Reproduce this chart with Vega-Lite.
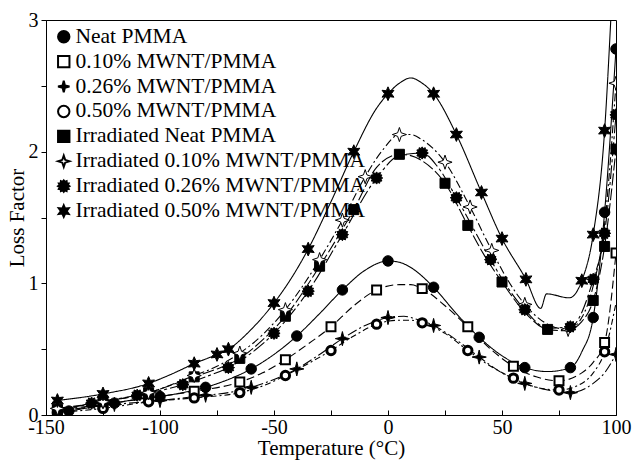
{
  "$schema": "https://vega.github.io/schema/vega-lite/v6.json",
  "width": 570,
  "height": 395,
  "autosize": "none",
  "padding": {"left": 46, "top": 20, "right": 17, "bottom": 48},
  "background": "white",
  "datasets": {
    "curves": [
      {"s":"Neat PMMA","t":-145,"v":0.02},{"s":"Neat PMMA","t":-140,"v":0.03},{"s":"Neat PMMA","t":-130,"v":0.06},{"s":"Neat PMMA","t":-120,"v":0.09},{"s":"Neat PMMA","t":-110,"v":0.12},{"s":"Neat PMMA","t":-100,"v":0.14},{"s":"Neat PMMA","t":-90,"v":0.17},{"s":"Neat PMMA","t":-80,"v":0.21},{"s":"Neat PMMA","t":-70,"v":0.27},{"s":"Neat PMMA","t":-60,"v":0.35},{"s":"Neat PMMA","t":-50,"v":0.46},{"s":"Neat PMMA","t":-40,"v":0.60},{"s":"Neat PMMA","t":-30,"v":0.77},{"s":"Neat PMMA","t":-20,"v":0.95},{"s":"Neat PMMA","t":-10,"v":1.10},{"s":"Neat PMMA","t":0,"v":1.17},{"s":"Neat PMMA","t":5,"v":1.16},{"s":"Neat PMMA","t":10,"v":1.12},{"s":"Neat PMMA","t":20,"v":0.97},{"s":"Neat PMMA","t":30,"v":0.77},{"s":"Neat PMMA","t":40,"v":0.59},{"s":"Neat PMMA","t":50,"v":0.45},{"s":"Neat PMMA","t":60,"v":0.36},{"s":"Neat PMMA","t":70,"v":0.33},{"s":"Neat PMMA","t":80,"v":0.36},{"s":"Neat PMMA","t":85,"v":0.48},{"s":"Neat PMMA","t":90,"v":0.74},{"s":"Neat PMMA","t":95,"v":1.54},{"s":"Neat PMMA","t":100,"v":2.78},

      {"s":"0.10% MWNT/PMMA","t":-145,"v":0.04},{"s":"0.10% MWNT/PMMA","t":-125,"v":0.08},{"s":"0.10% MWNT/PMMA","t":-105,"v":0.13},{"s":"0.10% MWNT/PMMA","t":-85,"v":0.18},{"s":"0.10% MWNT/PMMA","t":-65,"v":0.25},{"s":"0.10% MWNT/PMMA","t":-55,"v":0.32},{"s":"0.10% MWNT/PMMA","t":-45,"v":0.42},{"s":"0.10% MWNT/PMMA","t":-35,"v":0.54},{"s":"0.10% MWNT/PMMA","t":-25,"v":0.67},{"s":"0.10% MWNT/PMMA","t":-15,"v":0.83},{"s":"0.10% MWNT/PMMA","t":-5,"v":0.95},{"s":"0.10% MWNT/PMMA","t":5,"v":0.99},{"s":"0.10% MWNT/PMMA","t":10,"v":0.99},{"s":"0.10% MWNT/PMMA","t":15,"v":0.96},{"s":"0.10% MWNT/PMMA","t":25,"v":0.83},{"s":"0.10% MWNT/PMMA","t":35,"v":0.67},{"s":"0.10% MWNT/PMMA","t":45,"v":0.50},{"s":"0.10% MWNT/PMMA","t":55,"v":0.37},{"s":"0.10% MWNT/PMMA","t":65,"v":0.29},{"s":"0.10% MWNT/PMMA","t":75,"v":0.26},{"s":"0.10% MWNT/PMMA","t":85,"v":0.32},{"s":"0.10% MWNT/PMMA","t":90,"v":0.40},{"s":"0.10% MWNT/PMMA","t":95,"v":0.55},{"s":"0.10% MWNT/PMMA","t":100,"v":1.23},

      {"s":"0.26% MWNT/PMMA","t":-145,"v":0.03},{"s":"0.26% MWNT/PMMA","t":-120,"v":0.08},{"s":"0.26% MWNT/PMMA","t":-100,"v":0.11},{"s":"0.26% MWNT/PMMA","t":-80,"v":0.15},{"s":"0.26% MWNT/PMMA","t":-70,"v":0.17},{"s":"0.26% MWNT/PMMA","t":-60,"v":0.21},{"s":"0.26% MWNT/PMMA","t":-50,"v":0.27},{"s":"0.26% MWNT/PMMA","t":-40,"v":0.35},{"s":"0.26% MWNT/PMMA","t":-30,"v":0.46},{"s":"0.26% MWNT/PMMA","t":-20,"v":0.58},{"s":"0.26% MWNT/PMMA","t":-10,"v":0.68},{"s":"0.26% MWNT/PMMA","t":0,"v":0.74},{"s":"0.26% MWNT/PMMA","t":7,"v":0.75},{"s":"0.26% MWNT/PMMA","t":12,"v":0.73},{"s":"0.26% MWNT/PMMA","t":20,"v":0.68},{"s":"0.26% MWNT/PMMA","t":30,"v":0.57},{"s":"0.26% MWNT/PMMA","t":40,"v":0.44},{"s":"0.26% MWNT/PMMA","t":50,"v":0.32},{"s":"0.26% MWNT/PMMA","t":60,"v":0.24},{"s":"0.26% MWNT/PMMA","t":70,"v":0.19},{"s":"0.26% MWNT/PMMA","t":80,"v":0.17},{"s":"0.26% MWNT/PMMA","t":90,"v":0.24},{"s":"0.26% MWNT/PMMA","t":95,"v":0.32},{"s":"0.26% MWNT/PMMA","t":100,"v":0.46},

      {"s":"0.50% MWNT/PMMA","t":-145,"v":0.02},{"s":"0.50% MWNT/PMMA","t":-125,"v":0.05},{"s":"0.50% MWNT/PMMA","t":-105,"v":0.10},{"s":"0.50% MWNT/PMMA","t":-85,"v":0.13},{"s":"0.50% MWNT/PMMA","t":-65,"v":0.17},{"s":"0.50% MWNT/PMMA","t":-55,"v":0.22},{"s":"0.50% MWNT/PMMA","t":-45,"v":0.30},{"s":"0.50% MWNT/PMMA","t":-35,"v":0.39},{"s":"0.50% MWNT/PMMA","t":-25,"v":0.49},{"s":"0.50% MWNT/PMMA","t":-15,"v":0.60},{"s":"0.50% MWNT/PMMA","t":-5,"v":0.69},{"s":"0.50% MWNT/PMMA","t":5,"v":0.72},{"s":"0.50% MWNT/PMMA","t":10,"v":0.72},{"s":"0.50% MWNT/PMMA","t":15,"v":0.70},{"s":"0.50% MWNT/PMMA","t":25,"v":0.62},{"s":"0.50% MWNT/PMMA","t":35,"v":0.49},{"s":"0.50% MWNT/PMMA","t":45,"v":0.37},{"s":"0.50% MWNT/PMMA","t":55,"v":0.28},{"s":"0.50% MWNT/PMMA","t":65,"v":0.21},{"s":"0.50% MWNT/PMMA","t":75,"v":0.19},{"s":"0.50% MWNT/PMMA","t":85,"v":0.24},{"s":"0.50% MWNT/PMMA","t":90,"v":0.32},{"s":"0.50% MWNT/PMMA","t":95,"v":0.48},{"s":"0.50% MWNT/PMMA","t":100,"v":0.85},

      {"s":"Irradiated Neat PMMA","t":-145,"v":0.04},{"s":"Irradiated Neat PMMA","t":-125,"v":0.10},{"s":"Irradiated Neat PMMA","t":-105,"v":0.17},{"s":"Irradiated Neat PMMA","t":-85,"v":0.29},{"s":"Irradiated Neat PMMA","t":-75,"v":0.35},{"s":"Irradiated Neat PMMA","t":-65,"v":0.43},{"s":"Irradiated Neat PMMA","t":-55,"v":0.57},{"s":"Irradiated Neat PMMA","t":-45,"v":0.75},{"s":"Irradiated Neat PMMA","t":-30,"v":1.13},{"s":"Irradiated Neat PMMA","t":-15,"v":1.56},{"s":"Irradiated Neat PMMA","t":-5,"v":1.88},{"s":"Irradiated Neat PMMA","t":5,"v":1.98},{"s":"Irradiated Neat PMMA","t":10,"v":1.97},{"s":"Irradiated Neat PMMA","t":15,"v":1.93},{"s":"Irradiated Neat PMMA","t":25,"v":1.76},{"s":"Irradiated Neat PMMA","t":35,"v":1.44},{"s":"Irradiated Neat PMMA","t":42,"v":1.22},{"s":"Irradiated Neat PMMA","t":50,"v":1.01},{"s":"Irradiated Neat PMMA","t":60,"v":0.78},{"s":"Irradiated Neat PMMA","t":70,"v":0.65},{"s":"Irradiated Neat PMMA","t":78,"v":0.64},{"s":"Irradiated Neat PMMA","t":85,"v":0.71},{"s":"Irradiated Neat PMMA","t":90,"v":0.87},{"s":"Irradiated Neat PMMA","t":95,"v":1.28},{"s":"Irradiated Neat PMMA","t":100,"v":2.02},

      {"s":"Irradiated 0.10% MWNT/PMMA","t":-145,"v":0.05},{"s":"Irradiated 0.10% MWNT/PMMA","t":-125,"v":0.10},{"s":"Irradiated 0.10% MWNT/PMMA","t":-105,"v":0.17},{"s":"Irradiated 0.10% MWNT/PMMA","t":-85,"v":0.30},{"s":"Irradiated 0.10% MWNT/PMMA","t":-75,"v":0.37},{"s":"Irradiated 0.10% MWNT/PMMA","t":-65,"v":0.47},{"s":"Irradiated 0.10% MWNT/PMMA","t":-55,"v":0.61},{"s":"Irradiated 0.10% MWNT/PMMA","t":-45,"v":0.80},{"s":"Irradiated 0.10% MWNT/PMMA","t":-30,"v":1.18},{"s":"Irradiated 0.10% MWNT/PMMA","t":-20,"v":1.48},{"s":"Irradiated 0.10% MWNT/PMMA","t":-10,"v":1.81},{"s":"Irradiated 0.10% MWNT/PMMA","t":-2,"v":2.02},{"s":"Irradiated 0.10% MWNT/PMMA","t":5,"v":2.13},{"s":"Irradiated 0.10% MWNT/PMMA","t":10,"v":2.13},{"s":"Irradiated 0.10% MWNT/PMMA","t":15,"v":2.09},{"s":"Irradiated 0.10% MWNT/PMMA","t":25,"v":1.92},{"s":"Irradiated 0.10% MWNT/PMMA","t":36,"v":1.58},{"s":"Irradiated 0.10% MWNT/PMMA","t":45.5,"v":1.25},{"s":"Irradiated 0.10% MWNT/PMMA","t":52,"v":1.04},{"s":"Irradiated 0.10% MWNT/PMMA","t":60,"v":0.84},{"s":"Irradiated 0.10% MWNT/PMMA","t":70,"v":0.69},{"s":"Irradiated 0.10% MWNT/PMMA","t":79,"v":0.65},{"s":"Irradiated 0.10% MWNT/PMMA","t":85,"v":0.74},{"s":"Irradiated 0.10% MWNT/PMMA","t":90,"v":0.98},{"s":"Irradiated 0.10% MWNT/PMMA","t":95,"v":1.45},{"s":"Irradiated 0.10% MWNT/PMMA","t":100,"v":2.52},

      {"s":"Irradiated 0.26% MWNT/PMMA","t":-145,"v":0.03},{"s":"Irradiated 0.26% MWNT/PMMA","t":-130,"v":0.09},{"s":"Irradiated 0.26% MWNT/PMMA","t":-110,"v":0.15},{"s":"Irradiated 0.26% MWNT/PMMA","t":-90,"v":0.23},{"s":"Irradiated 0.26% MWNT/PMMA","t":-80,"v":0.29},{"s":"Irradiated 0.26% MWNT/PMMA","t":-70,"v":0.36},{"s":"Irradiated 0.26% MWNT/PMMA","t":-60,"v":0.47},{"s":"Irradiated 0.26% MWNT/PMMA","t":-50,"v":0.62},{"s":"Irradiated 0.26% MWNT/PMMA","t":-35,"v":0.94},{"s":"Irradiated 0.26% MWNT/PMMA","t":-20,"v":1.37},{"s":"Irradiated 0.26% MWNT/PMMA","t":-5,"v":1.80},{"s":"Irradiated 0.26% MWNT/PMMA","t":5,"v":1.97},{"s":"Irradiated 0.26% MWNT/PMMA","t":15,"v":1.99},{"s":"Irradiated 0.26% MWNT/PMMA","t":22,"v":1.88},{"s":"Irradiated 0.26% MWNT/PMMA","t":30,"v":1.65},{"s":"Irradiated 0.26% MWNT/PMMA","t":45,"v":1.18},{"s":"Irradiated 0.26% MWNT/PMMA","t":52,"v":0.98},{"s":"Irradiated 0.26% MWNT/PMMA","t":60,"v":0.80},{"s":"Irradiated 0.26% MWNT/PMMA","t":70,"v":0.66},{"s":"Irradiated 0.26% MWNT/PMMA","t":80,"v":0.67},{"s":"Irradiated 0.26% MWNT/PMMA","t":90,"v":1.03},{"s":"Irradiated 0.26% MWNT/PMMA","t":95,"v":1.38},{"s":"Irradiated 0.26% MWNT/PMMA","t":100,"v":2.28},

      {"s":"Irradiated 0.50% MWNT/PMMA","t":-145,"v":0.11},{"s":"Irradiated 0.50% MWNT/PMMA","t":-125,"v":0.16},{"s":"Irradiated 0.50% MWNT/PMMA","t":-105,"v":0.24},{"s":"Irradiated 0.50% MWNT/PMMA","t":-95,"v":0.31},{"s":"Irradiated 0.50% MWNT/PMMA","t":-85,"v":0.39},{"s":"Irradiated 0.50% MWNT/PMMA","t":-75,"v":0.46},{"s":"Irradiated 0.50% MWNT/PMMA","t":-70,"v":0.50},{"s":"Irradiated 0.50% MWNT/PMMA","t":-60,"v":0.65},{"s":"Irradiated 0.50% MWNT/PMMA","t":-50,"v":0.85},{"s":"Irradiated 0.50% MWNT/PMMA","t":-42,"v":1.05},{"s":"Irradiated 0.50% MWNT/PMMA","t":-35,"v":1.26},{"s":"Irradiated 0.50% MWNT/PMMA","t":-25,"v":1.62},{"s":"Irradiated 0.50% MWNT/PMMA","t":-15,"v":2.0},{"s":"Irradiated 0.50% MWNT/PMMA","t":-5,"v":2.33},{"s":"Irradiated 0.50% MWNT/PMMA","t":0,"v":2.44},{"s":"Irradiated 0.50% MWNT/PMMA","t":5,"v":2.52},{"s":"Irradiated 0.50% MWNT/PMMA","t":10,"v":2.56},{"s":"Irradiated 0.50% MWNT/PMMA","t":15,"v":2.52},{"s":"Irradiated 0.50% MWNT/PMMA","t":20,"v":2.44},{"s":"Irradiated 0.50% MWNT/PMMA","t":30,"v":2.13},{"s":"Irradiated 0.50% MWNT/PMMA","t":41,"v":1.69},{"s":"Irradiated 0.50% MWNT/PMMA","t":50,"v":1.34},{"s":"Irradiated 0.50% MWNT/PMMA","t":60.5,"v":1.03},{"s":"Irradiated 0.50% MWNT/PMMA","t":67,"v":0.81},{"s":"Irradiated 0.50% MWNT/PMMA","t":69.5,"v":0.92},{"s":"Irradiated 0.50% MWNT/PMMA","t":79.5,"v":0.89},{"s":"Irradiated 0.50% MWNT/PMMA","t":85,"v":1.02},{"s":"Irradiated 0.50% MWNT/PMMA","t":90,"v":1.37},{"s":"Irradiated 0.50% MWNT/PMMA","t":95,"v":2.16},{"s":"Irradiated 0.50% MWNT/PMMA","t":98,"v":3.1}
    ],
    "markers": [
      {"s":"Neat PMMA","t":-140,"v":0.03},{"s":"Neat PMMA","t":-120,"v":0.09},{"s":"Neat PMMA","t":-100,"v":0.14},{"s":"Neat PMMA","t":-80,"v":0.21},{"s":"Neat PMMA","t":-60,"v":0.35},{"s":"Neat PMMA","t":-40,"v":0.60},{"s":"Neat PMMA","t":-20,"v":0.95},{"s":"Neat PMMA","t":0,"v":1.17},{"s":"Neat PMMA","t":20,"v":0.97},{"s":"Neat PMMA","t":40,"v":0.59},{"s":"Neat PMMA","t":60,"v":0.36},{"s":"Neat PMMA","t":80,"v":0.36},{"s":"Neat PMMA","t":90,"v":0.74},{"s":"Neat PMMA","t":95,"v":1.54},{"s":"Neat PMMA","t":100,"v":2.78},

      {"s":"0.10% MWNT/PMMA","t":-145,"v":0.04},{"s":"0.10% MWNT/PMMA","t":-125,"v":0.08},{"s":"0.10% MWNT/PMMA","t":-105,"v":0.13},{"s":"0.10% MWNT/PMMA","t":-85,"v":0.18},{"s":"0.10% MWNT/PMMA","t":-65,"v":0.25},{"s":"0.10% MWNT/PMMA","t":-45,"v":0.42},{"s":"0.10% MWNT/PMMA","t":-25,"v":0.67},{"s":"0.10% MWNT/PMMA","t":-5,"v":0.95},{"s":"0.10% MWNT/PMMA","t":15,"v":0.96},{"s":"0.10% MWNT/PMMA","t":35,"v":0.67},{"s":"0.10% MWNT/PMMA","t":55,"v":0.37},{"s":"0.10% MWNT/PMMA","t":75,"v":0.26},{"s":"0.10% MWNT/PMMA","t":95,"v":0.55},{"s":"0.10% MWNT/PMMA","t":100,"v":1.23},

      {"s":"0.26% MWNT/PMMA","t":-120,"v":0.08},{"s":"0.26% MWNT/PMMA","t":-100,"v":0.11},{"s":"0.26% MWNT/PMMA","t":-80,"v":0.15},{"s":"0.26% MWNT/PMMA","t":-60,"v":0.21},{"s":"0.26% MWNT/PMMA","t":-40,"v":0.35},{"s":"0.26% MWNT/PMMA","t":-20,"v":0.58},{"s":"0.26% MWNT/PMMA","t":0,"v":0.74},{"s":"0.26% MWNT/PMMA","t":20,"v":0.68},{"s":"0.26% MWNT/PMMA","t":40,"v":0.44},{"s":"0.26% MWNT/PMMA","t":60,"v":0.24},{"s":"0.26% MWNT/PMMA","t":80,"v":0.17},{"s":"0.26% MWNT/PMMA","t":100,"v":0.46},

      {"s":"0.50% MWNT/PMMA","t":-145,"v":0.02},{"s":"0.50% MWNT/PMMA","t":-125,"v":0.05},{"s":"0.50% MWNT/PMMA","t":-105,"v":0.10},{"s":"0.50% MWNT/PMMA","t":-85,"v":0.13},{"s":"0.50% MWNT/PMMA","t":-65,"v":0.17},{"s":"0.50% MWNT/PMMA","t":-45,"v":0.30},{"s":"0.50% MWNT/PMMA","t":-25,"v":0.49},{"s":"0.50% MWNT/PMMA","t":-5,"v":0.69},{"s":"0.50% MWNT/PMMA","t":15,"v":0.70},{"s":"0.50% MWNT/PMMA","t":35,"v":0.49},{"s":"0.50% MWNT/PMMA","t":55,"v":0.28},{"s":"0.50% MWNT/PMMA","t":75,"v":0.19},{"s":"0.50% MWNT/PMMA","t":95,"v":0.48},

      {"s":"Irradiated Neat PMMA","t":-145,"v":0.04},{"s":"Irradiated Neat PMMA","t":-125,"v":0.10},{"s":"Irradiated Neat PMMA","t":-105,"v":0.17},{"s":"Irradiated Neat PMMA","t":-85,"v":0.29},{"s":"Irradiated Neat PMMA","t":-65,"v":0.43},{"s":"Irradiated Neat PMMA","t":-45,"v":0.75},{"s":"Irradiated Neat PMMA","t":-30,"v":1.13},{"s":"Irradiated Neat PMMA","t":-15,"v":1.56},{"s":"Irradiated Neat PMMA","t":5,"v":1.98},{"s":"Irradiated Neat PMMA","t":25,"v":1.76},{"s":"Irradiated Neat PMMA","t":35,"v":1.44},{"s":"Irradiated Neat PMMA","t":50,"v":1.01},{"s":"Irradiated Neat PMMA","t":70,"v":0.65},{"s":"Irradiated Neat PMMA","t":90,"v":0.87},{"s":"Irradiated Neat PMMA","t":95,"v":1.28},{"s":"Irradiated Neat PMMA","t":100,"v":2.02},

      {"s":"Irradiated 0.10% MWNT/PMMA","t":-145,"v":0.05},{"s":"Irradiated 0.10% MWNT/PMMA","t":-125,"v":0.10},{"s":"Irradiated 0.10% MWNT/PMMA","t":-105,"v":0.17},{"s":"Irradiated 0.10% MWNT/PMMA","t":-85,"v":0.30},{"s":"Irradiated 0.10% MWNT/PMMA","t":-65,"v":0.47},{"s":"Irradiated 0.10% MWNT/PMMA","t":-45,"v":0.80},{"s":"Irradiated 0.10% MWNT/PMMA","t":-30,"v":1.18},{"s":"Irradiated 0.10% MWNT/PMMA","t":-20,"v":1.48},{"s":"Irradiated 0.10% MWNT/PMMA","t":-10,"v":1.81},{"s":"Irradiated 0.10% MWNT/PMMA","t":5,"v":2.13},{"s":"Irradiated 0.10% MWNT/PMMA","t":25,"v":1.92},{"s":"Irradiated 0.10% MWNT/PMMA","t":36,"v":1.58},{"s":"Irradiated 0.10% MWNT/PMMA","t":45.5,"v":1.25},{"s":"Irradiated 0.10% MWNT/PMMA","t":60,"v":0.84},{"s":"Irradiated 0.10% MWNT/PMMA","t":79,"v":0.65},{"s":"Irradiated 0.10% MWNT/PMMA","t":100,"v":2.52},

      {"s":"Irradiated 0.26% MWNT/PMMA","t":-130,"v":0.09},{"s":"Irradiated 0.26% MWNT/PMMA","t":-110,"v":0.15},{"s":"Irradiated 0.26% MWNT/PMMA","t":-90,"v":0.23},{"s":"Irradiated 0.26% MWNT/PMMA","t":-70,"v":0.36},{"s":"Irradiated 0.26% MWNT/PMMA","t":-50,"v":0.62},{"s":"Irradiated 0.26% MWNT/PMMA","t":-35,"v":0.94},{"s":"Irradiated 0.26% MWNT/PMMA","t":-20,"v":1.37},{"s":"Irradiated 0.26% MWNT/PMMA","t":-5,"v":1.80},{"s":"Irradiated 0.26% MWNT/PMMA","t":15,"v":1.99},{"s":"Irradiated 0.26% MWNT/PMMA","t":30,"v":1.65},{"s":"Irradiated 0.26% MWNT/PMMA","t":45,"v":1.18},{"s":"Irradiated 0.26% MWNT/PMMA","t":60,"v":0.80},{"s":"Irradiated 0.26% MWNT/PMMA","t":80,"v":0.67},{"s":"Irradiated 0.26% MWNT/PMMA","t":90,"v":1.03},{"s":"Irradiated 0.26% MWNT/PMMA","t":95,"v":1.38},{"s":"Irradiated 0.26% MWNT/PMMA","t":100,"v":2.28},

      {"s":"Irradiated 0.50% MWNT/PMMA","t":-145,"v":0.11},{"s":"Irradiated 0.50% MWNT/PMMA","t":-125,"v":0.16},{"s":"Irradiated 0.50% MWNT/PMMA","t":-105,"v":0.24},{"s":"Irradiated 0.50% MWNT/PMMA","t":-85,"v":0.39},{"s":"Irradiated 0.50% MWNT/PMMA","t":-75,"v":0.46},{"s":"Irradiated 0.50% MWNT/PMMA","t":-70,"v":0.50},{"s":"Irradiated 0.50% MWNT/PMMA","t":-50,"v":0.85},{"s":"Irradiated 0.50% MWNT/PMMA","t":-35,"v":1.26},{"s":"Irradiated 0.50% MWNT/PMMA","t":-15,"v":2.0},{"s":"Irradiated 0.50% MWNT/PMMA","t":0,"v":2.44},{"s":"Irradiated 0.50% MWNT/PMMA","t":20,"v":2.44},{"s":"Irradiated 0.50% MWNT/PMMA","t":30,"v":2.13},{"s":"Irradiated 0.50% MWNT/PMMA","t":41,"v":1.69},{"s":"Irradiated 0.50% MWNT/PMMA","t":50,"v":1.34},{"s":"Irradiated 0.50% MWNT/PMMA","t":60.5,"v":1.03},{"s":"Irradiated 0.50% MWNT/PMMA","t":85,"v":1.02},{"s":"Irradiated 0.50% MWNT/PMMA","t":90,"v":1.37},{"s":"Irradiated 0.50% MWNT/PMMA","t":95,"v":2.16}
    ]
  },
  "encoding": {
    "x": {
      "field": "t", "type": "quantitative",
      "scale": {"domain": [-150, 100], "nice": false, "zero": false},
      "axis": {
        "title": "Temperature (°C)",
        "values": [-150, -125, -100, -75, -50, -25, 0, 25, 50, 75, 100],
        "labelExpr": "datum.value % 50 === 0 ? '' + datum.value : ''",
        "tickSize": -5,
        "labelPadding": 7,
        "titlePadding": 0,
        "labelFlush": false,
        "labelOverlap": false
      }
    },
    "y": {
      "field": "v", "type": "quantitative",
      "scale": {"domain": [0, 3], "nice": false, "zero": false},
      "axis": {
        "title": "Loss Factor",
        "values": [0, 0.5, 1, 1.5, 2, 2.5, 3],
        "labelExpr": "datum.value % 1 === 0 ? '' + datum.value : ''",
        "tickSize": 5,
        "labelPadding": 3,
        "titlePadding": 1,
        "labelOverlap": false
      }
    }
  },
  "layer": [
    {
      "data": {"name": "curves"},
      "mark": {"type": "line", "interpolate": "monotone", "strokeWidth": 1.1, "clip": true, "color": "black"},
      "encoding": {
        "detail": {"field": "s"},
        "strokeDash": {
          "field": "s", "type": "nominal",
          "scale": {
            "domain": ["Neat PMMA", "0.10% MWNT/PMMA", "0.26% MWNT/PMMA", "0.50% MWNT/PMMA", "Irradiated Neat PMMA", "Irradiated 0.10% MWNT/PMMA", "Irradiated 0.26% MWNT/PMMA", "Irradiated 0.50% MWNT/PMMA", "none-a"],
            "range": [[1, 0], [8, 4], [10, 3, 2, 3], [6, 3, 2, 3], [12, 3], [8, 3, 2, 3], [14, 3, 3, 3], [1, 0], [1, 0]]
          },
          "legend": null
        }
      }
    },
    {
      "data": {"name": "markers"},
      "mark": {"type": "point", "filled": true, "opacity": 1, "clip": true},
      "encoding": {
        "shape": {
          "field": "s", "type": "nominal",
          "scale": {
            "domain": ["Neat PMMA", "0.10% MWNT/PMMA", "0.26% MWNT/PMMA", "0.50% MWNT/PMMA", "Irradiated Neat PMMA", "Irradiated 0.10% MWNT/PMMA", "Irradiated 0.26% MWNT/PMMA", "Irradiated 0.50% MWNT/PMMA"],
            "range": [
              "circle",
              "square",
              "M0,-1L0.2,-0.2L1,0L0.2,0.2L0,1L-0.2,0.2L-1,0L-0.2,-0.2Z",
              "circle",
              "square",
              "M0,-1L0.25,-0.25L1,0L0.25,0.25L0,1L-0.25,0.25L-1,0L-0.25,-0.25Z",
              "M1,0L0.724,0.194L0.866,0.5L0.53,0.53L0.5,0.866L0.194,0.724L0,1L-0.194,0.724L-0.5,0.866L-0.53,0.53L-0.866,0.5L-0.724,0.194L-1,0L-0.724,-0.194L-0.866,-0.5L-0.53,-0.53L-0.5,-0.866L-0.194,-0.724L0,-1L0.194,-0.724L0.5,-0.866L0.53,-0.53L0.866,-0.5L0.724,-0.194Z",
              "M0,-1L0.25,-0.433L0.866,-0.5L0.5,0L0.866,0.5L0.25,0.433L0,1L-0.25,0.433L-0.866,0.5L-0.5,0L-0.866,-0.5L-0.25,-0.433Z"
            ]
          },
          "legend": {"title": null, "orient": "none", "legendX": 7, "legendY": 6}
        },
        "fill": {
          "field": "s", "type": "nominal",
          "scale": {
            "domain": ["Neat PMMA", "0.10% MWNT/PMMA", "0.26% MWNT/PMMA", "0.50% MWNT/PMMA", "Irradiated Neat PMMA", "Irradiated 0.10% MWNT/PMMA", "Irradiated 0.26% MWNT/PMMA", "Irradiated 0.50% MWNT/PMMA"],
            "range": ["black", "white", "black", "white", "black", "white", "black", "black"]
          },
          "legend": {"title": null, "orient": "none", "legendX": 7, "legendY": 6}
        },
        "stroke": {
          "field": "s", "type": "nominal",
          "scale": {
            "domain": ["Neat PMMA", "0.10% MWNT/PMMA", "0.26% MWNT/PMMA", "0.50% MWNT/PMMA", "Irradiated Neat PMMA", "Irradiated 0.10% MWNT/PMMA", "Irradiated 0.26% MWNT/PMMA", "Irradiated 0.50% MWNT/PMMA"],
            "range": ["black", "black", "black", "black", "black", "black", "black", "black"]
          },
          "legend": {"title": null, "orient": "none", "legendX": 7, "legendY": 6}
        },
        "size": {
          "field": "s", "type": "ordinal",
          "scale": {
            "type": "ordinal",
            "domain": ["Neat PMMA", "0.10% MWNT/PMMA", "0.26% MWNT/PMMA", "0.50% MWNT/PMMA", "Irradiated Neat PMMA", "Irradiated 0.10% MWNT/PMMA", "Irradiated 0.26% MWNT/PMMA", "Irradiated 0.50% MWNT/PMMA", "none-b"],
            "range": [110, 80, 200, 70, 100, 200, 150, 190, 100]
          },
          "legend": null
        },
        "strokeWidth": {
          "field": "s", "type": "ordinal",
          "scale": {
            "type": "ordinal",
            "domain": ["Neat PMMA", "0.10% MWNT/PMMA", "0.26% MWNT/PMMA", "0.50% MWNT/PMMA", "Irradiated Neat PMMA", "Irradiated 0.10% MWNT/PMMA", "Irradiated 0.26% MWNT/PMMA", "Irradiated 0.50% MWNT/PMMA", "none-c"],
            "range": [1, 2, 1, 3, 1, 1, 1, 1, 1]
          },
          "legend": null
        }
      }
    }
  ],
  "config": {
    "font": "Liberation Serif",
    "view": {"stroke": "black", "strokeWidth": 1},
    "axis": {
      "grid": false,
      "domainColor": "black",
      "tickColor": "black",
      "labelColor": "black",
      "titleColor": "black",
      "labelFont": "Liberation Serif",
      "titleFont": "Liberation Serif",
      "labelFontSize": 20,
      "titleFontSize": 21,
      "titleFontWeight": "normal"
    },
    "legend": {
      "padding": 0,
      "rowPadding": 1.9,
      "labelFont": "Liberation Serif",
      "labelFontSize": 21.5,
      "labelColor": "black",
      "labelOffset": 1,
      "symbolSize": 130,
      "symbolStrokeWidth": 2,
      "labelLimit": 400
    }
  }
}
